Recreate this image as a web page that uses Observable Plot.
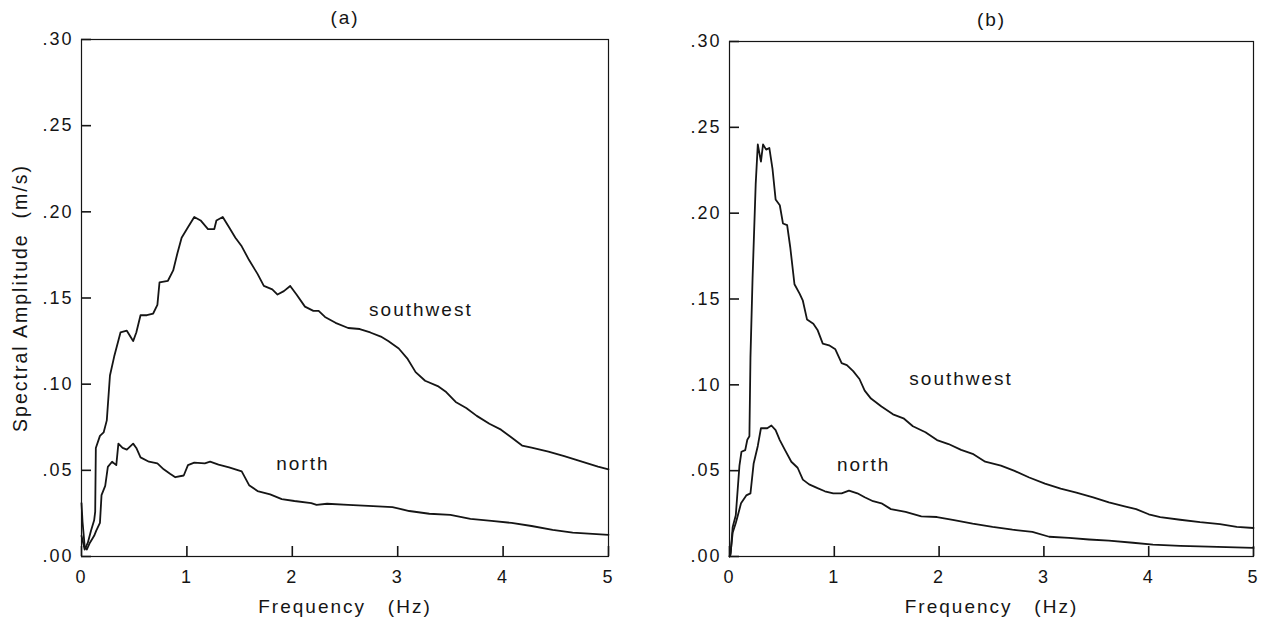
<!DOCTYPE html>
<html>
<head>
<meta charset="utf-8">
<script src="https://cdn.jsdelivr.net/npm/d3@7"></script>
<script src="https://cdn.jsdelivr.net/npm/@observablehq/plot@0.6"></script>
<style>
  html, body { margin: 0; padding: 0; background: #fff; }
  #wrap { display: flex; flex-direction: row; width: 1267px; height: 621px; overflow: hidden; }
  #wrap svg { display: block; }
</style>
</head>
<body>
<div id="wrap"></div>
<script>
// ---------- data ----------
const panelTitles = ["(a)", "(b)"];
const seriesNames = ["southwest", "north"];
const xTicks = [0, 1, 2, 3, 4, 5];
const yTicks = [0, 0.05, 0.10, 0.15, 0.20, 0.25, 0.30];

// Panel (a) southwest
const freqA_sw = [0.00,0.03,0.06,0.09,0.12,0.13,0.136,0.175,0.21,0.24,0.27,0.31,0.37,0.43,0.49,0.52,0.56,0.62,0.68,0.72,0.74,0.82,0.87,0.91,0.95,1.01,1.07,1.13,1.20,1.26,1.28,1.34,1.40,1.46,1.52,1.59,1.67,1.73,1.81,1.86,1.92,1.98,2.04,2.12,2.20,2.25,2.31,2.41,2.53,2.64,2.74,2.84,2.91,3.01,3.09,3.17,3.26,3.38,3.46,3.55,3.65,3.75,3.87,3.98,4.08,4.18,4.27,4.43,4.58,4.74,4.90,5.00];
const ampA_sw  = [0.012,0.004,0.008,0.015,0.021,0.026,0.063,0.070,0.072,0.079,0.105,0.116,0.130,0.131,0.125,0.130,0.140,0.140,0.141,0.146,0.159,0.160,0.166,0.176,0.185,0.191,0.197,0.195,0.190,0.190,0.195,0.197,0.191,0.185,0.180,0.172,0.164,0.157,0.155,0.152,0.154,0.157,0.152,0.145,0.1425,0.1425,0.139,0.1356,0.1326,0.132,0.130,0.1276,0.125,0.1207,0.115,0.107,0.102,0.0989,0.0954,0.0897,0.0862,0.0816,0.0770,0.0736,0.0690,0.0644,0.0632,0.0609,0.0582,0.0552,0.0522,0.0506];

// Panel (a) north
const freqA_n = [0.00,0.01,0.03,0.05,0.08,0.12,0.14,0.175,0.19,0.225,0.25,0.29,0.33,0.35,0.39,0.43,0.49,0.52,0.56,0.64,0.72,0.78,0.84,0.89,0.97,1.01,1.07,1.17,1.22,1.30,1.40,1.52,1.59,1.67,1.79,1.90,2.02,2.18,2.23,2.33,2.53,2.72,2.95,3.11,3.30,3.50,3.69,3.89,4.08,4.27,4.47,4.66,5.00];
const ampA_n  = [0.031,0.020,0.006,0.004,0.008,0.012,0.015,0.0195,0.0356,0.041,0.052,0.055,0.053,0.0655,0.063,0.062,0.0655,0.063,0.0575,0.055,0.054,0.0506,0.048,0.046,0.047,0.053,0.0545,0.054,0.055,0.0533,0.0517,0.0494,0.0414,0.038,0.036,0.0333,0.0322,0.031,0.030,0.0306,0.030,0.0294,0.0287,0.0264,0.0248,0.0241,0.0218,0.0207,0.0195,0.0177,0.0154,0.0138,0.0126];

// Panel (b) southwest
const freqB_sw = [0.00,0.01,0.03,0.06,0.095,0.114,0.15,0.17,0.19,0.20,0.22,0.25,0.27,0.30,0.32,0.35,0.38,0.41,0.44,0.48,0.51,0.55,0.58,0.62,0.67,0.70,0.74,0.80,0.84,0.89,0.95,1.01,1.07,1.12,1.18,1.24,1.29,1.35,1.45,1.56,1.66,1.75,1.87,1.98,2.09,2.21,2.32,2.44,2.59,2.72,2.86,3.01,3.16,3.31,3.47,3.62,3.77,3.88,4.00,4.11,4.30,4.49,4.68,4.84,5.00];
const ampB_sw  = [0.000,0.001,0.017,0.024,0.053,0.061,0.062,0.068,0.070,0.116,0.162,0.217,0.240,0.230,0.240,0.237,0.238,0.226,0.208,0.2046,0.194,0.193,0.180,0.1586,0.153,0.149,0.138,0.1356,0.132,0.124,0.123,0.1207,0.1126,0.1115,0.108,0.1034,0.0966,0.092,0.0874,0.0828,0.0805,0.0759,0.0724,0.0678,0.0655,0.0621,0.0598,0.0552,0.0529,0.0499,0.046,0.0425,0.0395,0.0372,0.0345,0.0315,0.0292,0.0276,0.0246,0.023,0.0214,0.020,0.0189,0.0172,0.0166];

// Panel (b) north
const freqB_n = [0.00,0.01,0.03,0.06,0.08,0.11,0.16,0.20,0.23,0.27,0.30,0.36,0.40,0.44,0.48,0.53,0.59,0.65,0.70,0.76,0.84,0.91,0.99,1.07,1.14,1.22,1.29,1.37,1.45,1.54,1.68,1.83,1.98,2.13,2.32,2.51,2.70,2.89,3.05,3.24,3.43,3.62,3.85,4.04,4.30,4.57,5.00];
const ampB_n  = [0.000,0.002,0.0138,0.0195,0.024,0.031,0.0356,0.0368,0.054,0.0644,0.0747,0.0747,0.0763,0.0736,0.0678,0.062,0.0552,0.0517,0.0448,0.042,0.0398,0.038,0.0368,0.0368,0.0384,0.0368,0.0345,0.0322,0.031,0.0276,0.026,0.0234,0.023,0.0214,0.0191,0.0172,0.0156,0.0143,0.0115,0.0108,0.0099,0.0092,0.008,0.0069,0.0062,0.0057,0.005];

// curve labels (data coordinates)
const labelFreqA = [3.22, 2.10];
const labelAmpA  = [0.143, 0.0536];
const labelFreqB = [2.21, 1.28];
const labelAmpB  = [0.1034, 0.0536];

const yLabel = "Spectral Amplitude\u00a0 (m/s)";
const xLabel = "Frequency\u00a0\u00a0 (Hz)";

// ---------- build ----------
const toRows = (fs, as) => fs.map((f, i) => ({f, a: as[i]}));
const fmtY = d => d.toFixed(2).replace(/^0/, "");
const ink = "#151515";
const H = 621;
const xDom = [0, 5], yDom = [0, 0.3];

function panel({title, sw, n, labF, labA, width, ml, mr, mt, mb, showYLabel}) {
  const labels = seriesNames.map((s, i) => ({f: labF[i], a: labA[i], s}));
  return Plot.plot({
    width, height: H,
    marginLeft: ml, marginRight: mr, marginTop: mt, marginBottom: mb,
    style: {fontFamily: "'Liberation Sans', Arial, sans-serif", fontSize: "18px", color: ink, letterSpacing: "2px", background: "#fff"},
    x: {domain: xDom},
    y: {domain: yDom},
    marks: [
      Plot.frame({stroke: ink, strokeWidth: 1.2}),
      // inward tick marks: axis ticks shifted inside the frame
      Plot.axisY({ticks: yTicks, anchor: "left", tickSize: 10, dx: 10, text: null, label: null, stroke: ink, strokeWidth: 1.6}),
      Plot.axisX({ticks: xTicks, anchor: "bottom", tickSize: 10, dy: -10, text: null, label: null, stroke: ink, strokeWidth: 1.6}),
      // tick labels
      Plot.axisY({ticks: yTicks, tickFormat: fmtY, tickSize: 0, tickPadding: 8, fontSize: 18, label: null}),
      Plot.axisX({ticks: xTicks, tickFormat: d => String(d), tickSize: 0, tickPadding: 14, fontSize: 18, label: null}),
      Plot.line(sw, {x: "f", y: "a", stroke: ink, strokeWidth: 1.8, strokeLinejoin: "round"}),
      Plot.line(n, {x: "f", y: "a", stroke: ink, strokeWidth: 1.8, strokeLinejoin: "round"}),
      Plot.text(labels, {x: "f", y: "a", text: "s", fontSize: 19, fill: ink}),
      Plot.text([title], {frameAnchor: "top", dy: -22, lineAnchor: "middle", fontSize: 19, fill: ink}),
      Plot.text([xLabel], {frameAnchor: "bottom", dy: 50, lineAnchor: "middle", fontSize: 19, fill: ink}),
      showYLabel ? Plot.text([yLabel], {frameAnchor: "left", dx: -61, rotate: -90, textAnchor: "middle", lineAnchor: "middle", fontSize: 19.5, fill: ink}) : null
    ]
  });
}

const wrap = document.getElementById("wrap");
wrap.append(panel({
  title: panelTitles[0], sw: toRows(freqA_sw, ampA_sw), n: toRows(freqA_n, ampA_n),
  labF: labelFreqA, labA: labelAmpA, width: 633, ml: 81, mr: 25, mt: 39, mb: 65, showYLabel: true
}));
wrap.append(panel({
  title: panelTitles[1], sw: toRows(freqB_sw, ampB_sw), n: toRows(freqB_n, ampB_n),
  labF: labelFreqB, labA: labelAmpB, width: 634, ml: 96, mr: 14, mt: 41, mb: 65, showYLabel: false
}));
</script>
</body>
</html>
